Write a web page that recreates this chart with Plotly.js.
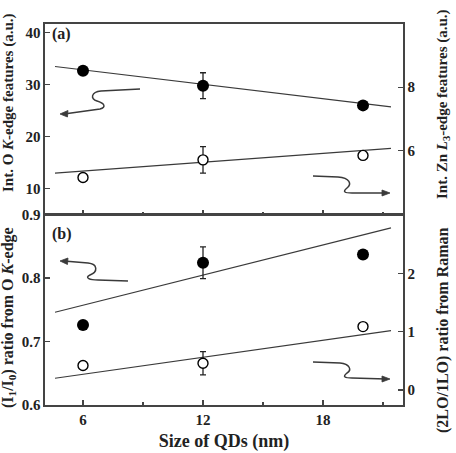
<!DOCTYPE html>
<html>
<head>
<meta charset="utf-8">
<script src="https://cdn.plot.ly/plotly-3.0.1.min.js"></script>
<style>html,body{margin:0;padding:0;background:#fff;}#chart{width:456px;height:453px;}</style>
</head>
<body>
<div id="chart"></div>
<script>
// ---- data ----
var qdSize = [6, 12, 20];
// panel (a)
var intOK = [32.7, 29.8, 26.0];          // filled, left axis
var intOKErr = [0, 2.5, 0];
var intZnL3 = [5.14, 5.70, 5.84];        // open, right axis
var intZnL3Err = [0, 0.42, 0];
// panel (b)
var ratioOK = [0.726, 0.824, 0.837];     // filled, left axis
var ratioOKErr = [0, 0.025, 0];
var ratioRaman = [0.42, 0.46, 1.09];     // open, right axis
var ratioRamanErr = [0, 0.2, 0];
// fitted lines (endpoints)
var fitX = [4.6, 21.4];
var fitIntOK = [33.5, 25.7];
var fitIntZnL3 = [5.28, 6.06];
var fitRatioOK = [0.746, 0.879];
var fitRatioRaman = [0.2, 1.02];
var xTicks = [6, 12, 18];

var FONT = "'Liberation Serif', 'Times New Roman', serif";
var INK = '#222';
var LINEC = '#3a3a3a';

function filled(x, y, err, xa, ya) {
  return {x: x, y: y, xaxis: xa, yaxis: ya, mode: 'markers', type: 'scatter',
    marker: {size: 12, color: '#000', line: {width: 0}},
    error_y: {type: 'data', array: err, visible: true, color: INK, thickness: 1.3, width: 3},
    showlegend: false, hoverinfo: 'skip'};
}
function openM(x, y, err, xa, ya) {
  return {x: x, y: y, xaxis: xa, yaxis: ya, mode: 'markers', type: 'scatter',
    marker: {size: 10, color: '#fff', line: {width: 1.4, color: '#000'}},
    error_y: {type: 'data', array: err, visible: true, color: INK, thickness: 1.3, width: 3},
    showlegend: false, hoverinfo: 'skip'};
}
function fit(x, y, xa, ya) {
  return {x: x, y: y, xaxis: xa, yaxis: ya, mode: 'lines', type: 'scatter',
    line: {color: LINEC, width: 1.2}, showlegend: false, hoverinfo: 'skip'};
}

var data = [
  fit(fitX, fitIntOK, 'x2', 'y'),
  fit(fitX, fitIntZnL3, 'x2', 'y2'),
  fit(fitX, fitRatioOK, 'x', 'y3'),
  fit(fitX, fitRatioRaman, 'x', 'y4'),
  filled(qdSize, intOK, intOKErr, 'x2', 'y'),
  openM(qdSize, intZnL3, intZnL3Err, 'x2', 'y2'),
  filled(qdSize, ratioOK, ratioOKErr, 'x', 'y3'),
  openM(qdSize, ratioRaman, ratioRamanErr, 'x', 'y4')
];

var W = 456, H = 453, L = 45, R = 53, T = 24, B = 48;
var PW = W - L - R, PH = H - T - B;
function px(s) {
  return s.replace(/(-?\d+\.?\d*),(-?\d+\.?\d*)/g, function(m, a, b) {
    var xx = (parseFloat(a) - L) / PW;
    var yy = (H - B - parseFloat(b)) / PH;
    return xx.toFixed(4) + ',' + yy.toFixed(4);
  });
}
function pathShape(s, fill) {
  return {type: 'path', xref: 'paper', yref: 'paper', path: px(s),
    line: {color: LINEC, width: fill ? 0.8 : 1.5},
    fillcolor: fill ? LINEC : 'rgba(0,0,0,0)'};
}

var TICKF = {family: FONT, size: 15, color: INK, weight: 'bold'};
var axLine = {showline: true, linecolor: '#444', linewidth: 1.6, ticks: 'inside', ticklen: 5,
  tickcolor: '#444', tickwidth: 1.2, showgrid: false, zeroline: false,
  tickfont: TICKF};
function ax(extra) { return Object.assign({}, axLine, extra); }

var TT = {family: FONT, size: 16, color: INK, weight: 'bold'};
var TTs = {family: FONT, size: 15, color: INK, weight: 'bold'};
var split = 0.5;
var layout = {
  width: W, height: H,
  margin: {l: L, r: R, t: T, b: B, pad: 0},
  paper_bgcolor: '#fff', plot_bgcolor: '#fff',
  font: {family: FONT, color: INK},
  xaxis: ax({range: [4.1, 22], tickvals: xTicks, ticktext: xTicks.map(String), anchor: 'y3', mirror: true,
    title: {text: 'Size of QDs (nm)', font: {family: FONT, size: 18, color: INK, weight: 'bold'}, standoff: 8},
    minor: {tickvals: [9, 15, 21], ticklen: 3, ticks: 'inside', tickcolor: '#444'}}),
  xaxis2: ax({range: [4.1, 22], tickvals: xTicks, showticklabels: false, anchor: 'y', mirror: true,
    minor: {tickvals: [9, 15, 21], ticklen: 3, ticks: 'inside', tickcolor: '#444'}}),
  yaxis: ax({domain: [split, 1], range: [4.95, 41.7], tickvals: [10, 20, 30, 40], anchor: 'x2'}),
  yaxis2: ax({domain: [split, 1], range: [3.97, 10], tickvals: [6, 8], overlaying: 'y', side: 'right', anchor: 'x2'}),
  yaxis3: ax({domain: [0, split], range: [0.6, 0.9], tickvals: [0.6, 0.7, 0.8, 0.9], ticktext: ['0.6','0.7','0.8','0.9'], anchor: 'x'}),
  yaxis4: ax({domain: [0, split], range: [-0.26, 3.02], tickvals: [0, 1, 2], overlaying: 'y3', side: 'right', anchor: 'x'}),
  annotations: [
    {text: '(a)', xref: 'paper', yref: 'paper', x: (50 - L) / PW, y: (H - B - 34) / PH, xanchor: 'left', yanchor: 'middle', showarrow: false, font: {family: FONT, size: 16, color: INK, weight: 'bold'}},
    {text: '(b)', xref: 'paper', yref: 'paper', x: (50 - L) / PW, y: (H - B - 234) / PH, xanchor: 'left', yanchor: 'middle', showarrow: false, font: {family: FONT, size: 16, color: INK, weight: 'bold'}},
    {text: 'Int. O <i>K</i>-edge features (a.u.)', xref: 'paper', yref: 'paper', x: (8 - L) / PW, y: (H - B - 103) / PH, xanchor: 'center', yanchor: 'middle', textangle: -90, showarrow: false, font: TTs},
    {text: '(I<sub>1</sub>/I<sub>0</sub>) ratio from O <i>K</i>-edge', xref: 'paper', yref: 'paper', x: (8 - L) / PW, y: (H - B - 318) / PH, xanchor: 'center', yanchor: 'middle', textangle: -90, showarrow: false, font: TT},
    {text: 'Int. Zn <i>L</i><sub>3</sub>-edge features (a.u.)', xref: 'paper', yref: 'paper', x: (443 - L) / PW, y: (H - B - 104) / PH, xanchor: 'center', yanchor: 'middle', textangle: -90, showarrow: false, font: TTs},
    {text: '(2LO/1LO) ratio from Raman', xref: 'paper', yref: 'paper', x: (443 - L) / PW, y: (H - B - 330) / PH, xanchor: 'center', yanchor: 'middle', textangle: -90, showarrow: false, font: TT}
  ],
  shapes: [
    pathShape('M140,89 L101,91 C91,92 90,99 97,101 C104,103 107,107 100,109 L64,114', false),
    pathShape('M60,114 L68,110.5 L67.5,117 Z', true),
    pathShape('M313,176 L338,177 C350,178 352,184 347,188 C342,192 345,193 352,193 L386,193', false),
    pathShape('M390,193 L382,190 L382,196 Z', true),
    pathShape('M64,261 L88,263 C98,264 98,272 90,275 C84,278 90,280 98,280 L128,281', false),
    pathShape('M60,261 L68,258 L67.5,264.5 Z', true),
    pathShape('M313,362 L340,363 C350,364 352,370 347,373 C342,377 345,378 352,378 L386,379', false),
    pathShape('M390,379 L382,376 L382,382 Z', true)
  ]
};

Plotly.newPlot('chart', data, layout, {staticPlot: true, displayModeBar: false});
</script>
</body>
</html>
